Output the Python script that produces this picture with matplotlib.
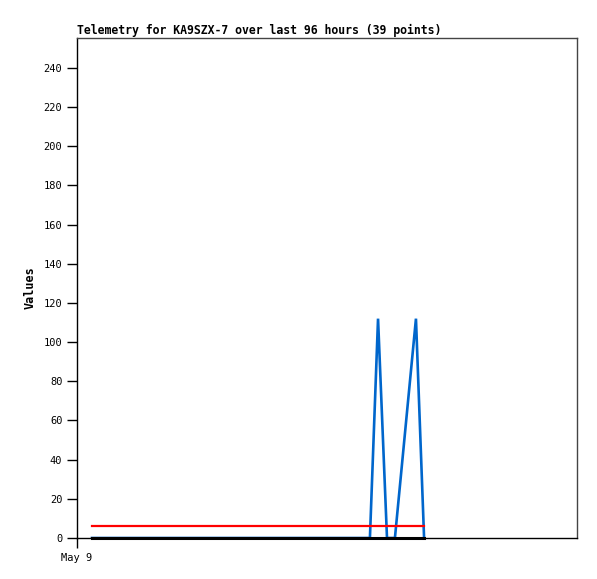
import matplotlib
matplotlib.use("Agg")
import matplotlib.pyplot as plt

# time in hours after May 9 00:00
blue_t = [0.72, 14.06, 14.45, 14.88, 15.26, 16.27, 16.66]
blue_v = [0, 0, 112, 0, 0, 112, 0]
red_t = [0.72, 16.66]
red_v = [6, 6]
black_t = [0.72, 16.66]
black_v = [0, 0]
yticks = list(range(0, 241, 20))
xtick_pos = [0]
xtick_labels = ["May 9"]

fig = plt.figure(figsize=(5.97, 5.79), dpi=100)
ax = fig.add_axes([77/597, 41/579, 500/597, 500/579])
ax.plot(blue_t, blue_v, color="#0066cc", lw=1.9, solid_joinstyle="miter", zorder=2)
ax.plot(black_t, black_v, color="black", lw=2.2, zorder=3, clip_on=False)
ax.plot(red_t, red_v, color="#ff0000", lw=1.6, zorder=4)

ax.set_xlim(0, 24)
ax.set_ylim(0, 255.3)
ax.set_yticks(yticks)
ax.set_xticks(xtick_pos)
ax.set_xticklabels(xtick_labels)
ax.tick_params(axis="both", direction="out", length=7, width=1, labelsize=7.5, colors="black")
for lab in ax.get_yticklabels() + ax.get_xticklabels():
    lab.set_family("DejaVu Sans Mono")
ax.spines["left"].set_color("black")
ax.spines["bottom"].set_color("black")
ax.spines["top"].set_color("#444444")
ax.spines["right"].set_color("#444444")
for s in ax.spines.values():
    s.set_linewidth(1)
ax.set_ylabel("Values", family="DejaVu Sans Mono", fontweight="bold", fontsize=8.5, labelpad=5)
ax.set_title("Telemetry for KA9SZX-7 over last 96 hours (39 points)", loc="left",
             family="DejaVu Sans Mono", fontweight="bold", fontsize=8.3, pad=3)
fig.savefig("out.png", dpi=100)
